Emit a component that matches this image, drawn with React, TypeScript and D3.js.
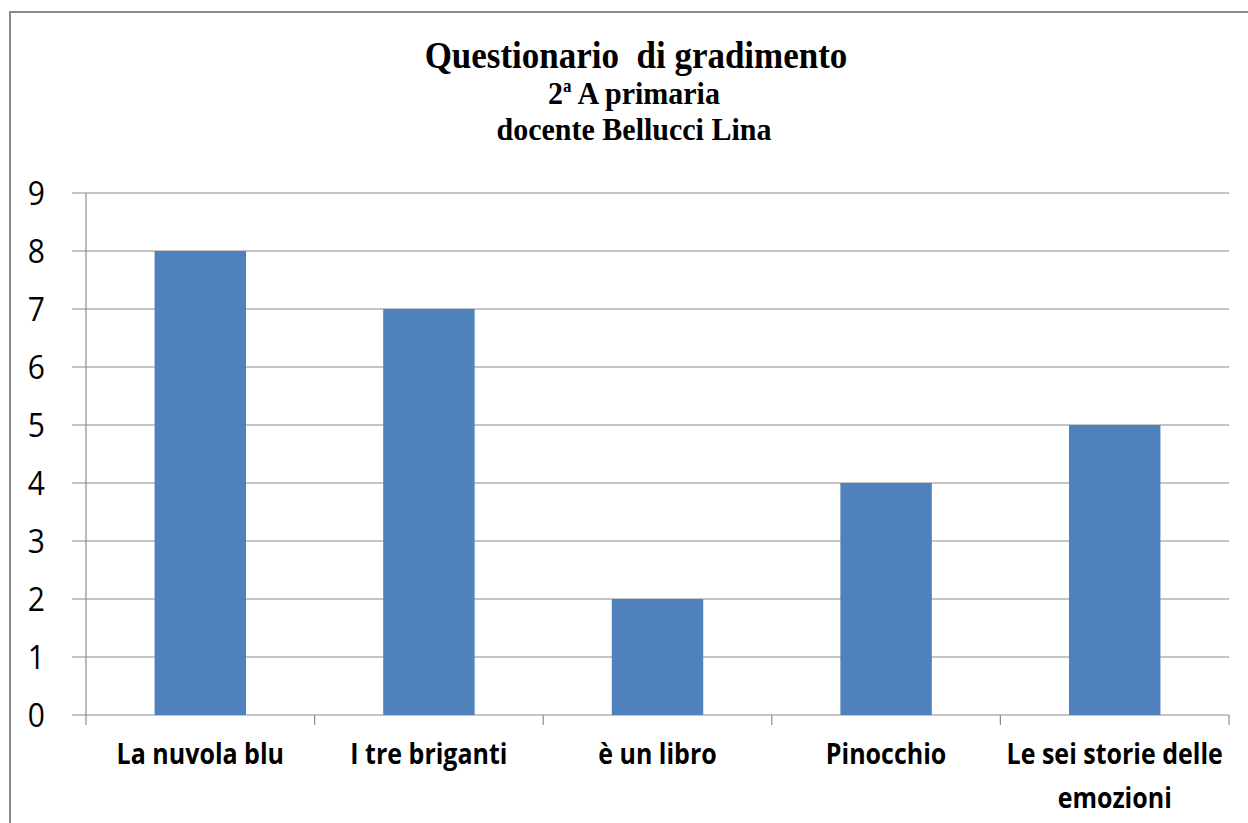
import React from 'react';
import * as d3 from 'd3';

const categories = ['La nuvola blu', 'I tre briganti', 'è un libro', 'Pinocchio', 'Le sei storie delle|emozioni'];
const values = [8, 7, 2, 4, 5];
const yTicks = [0, 1, 2, 3, 4, 5, 6, 7, 8, 9];
const titleLines = ['Questionario\u00a0 di gradimento', '2ª A primaria', 'docente Bellucci Lina'];

const W = 1248;
const H = 823;

export default function App() {
    const plotLeft = 86;
    const plotRight = 1229;
    const plotTop = 193;
    const plotBottom = 715;

    const x = d3.scaleBand<string>()
        .domain(categories)
        .range([plotLeft, plotRight])
        .paddingInner(0.6)
        .paddingOuter(0.3);

    const step = (plotRight - plotLeft) / categories.length;

    const y = d3.scaleLinear()
        .domain([0, 9])
        .range([plotBottom, plotTop]);

    const gridColor = '#8c8c8c';

    return (
        <div style={{ position: 'fixed', left: 0, top: 0, width: W, height: H, background: '#fff' }}>
            <svg width={W} height={H} style={{ display: 'block' }}>
                <rect x={0} y={0} width={W} height={H} fill="#fff" />
                {/* chart frame (right and bottom sides fall outside the picture) */}
                <rect x={10} y={12} width={W + 20} height={H + 20} fill="none" stroke="#8a8a8a" strokeWidth={2} />

                {/* title */}
                <g fontFamily="'Liberation Serif', 'Times New Roman', serif" fontWeight="bold" fill="#000" textAnchor="middle">
                    <text transform="translate(636,68) scale(1,1.08)" fontSize={35}>{titleLines[0]}</text>
                    <text transform="translate(634,104) scale(1,1.05)" fontSize={30}>
                        2<tspan fontSize={17} dy={-11}>a</tspan><tspan dy={11}>{' A primaria'}</tspan>
                    </text>
                    <text transform="translate(634,140) scale(1,1.05)" fontSize={30}>{titleLines[2]}</text>
                </g>

                {/* gridlines */}
                {yTicks.map(t => (
                    <line key={t} x1={72} x2={plotRight} y1={y(t)} y2={y(t)} stroke={gridColor} strokeWidth={1.2} />
                ))}

                {/* y axis line */}
                <line x1={plotLeft} x2={plotLeft} y1={plotTop} y2={plotBottom} stroke={gridColor} strokeWidth={1.2} />

                {/* x category ticks */}
                {d3.range(categories.length + 1).map(i => (
                    <line key={i} x1={plotLeft + i * step} x2={plotLeft + i * step} y1={plotBottom} y2={plotBottom + 10} stroke={gridColor} strokeWidth={1.2} />
                ))}

                {/* bars */}
                {categories.map((c, i) => (
                    <rect key={c} x={x(c)} y={y(values[i])} width={x.bandwidth()} height={plotBottom - y(values[i])} fill="#4f81bd" />
                ))}

                {/* y tick labels */}
                <g fontFamily="'Open Sans', 'Noto Sans', sans-serif" fontSize={30} fill="#000" textAnchor="end">
                    {yTicks.map(t => (
                        <text key={t} transform={`translate(45,${y(t)}) scale(1,1.07)`} dy="0.36em">{t}</text>
                    ))}
                </g>

                {/* x labels */}
                <g fontFamily="'Open Sans', 'Noto Sans', sans-serif" fontSize={25} fontWeight="bold" fill="#000" textAnchor="middle">
                    {categories.map(c => {
                        const lines = c.split('|');
                        const cx = (x(c) ?? 0) + x.bandwidth() / 2;
                        return (
                            <text key={c} transform={`translate(${cx},764) scale(1,1.15)`}>
                                {lines.map((l, j) => (
                                    <tspan key={j} x={0} dy={j === 0 ? 0 : 38}>{l}</tspan>
                                ))}
                            </text>
                        );
                    })}
                </g>
            </svg>
        </div>
    );
}
